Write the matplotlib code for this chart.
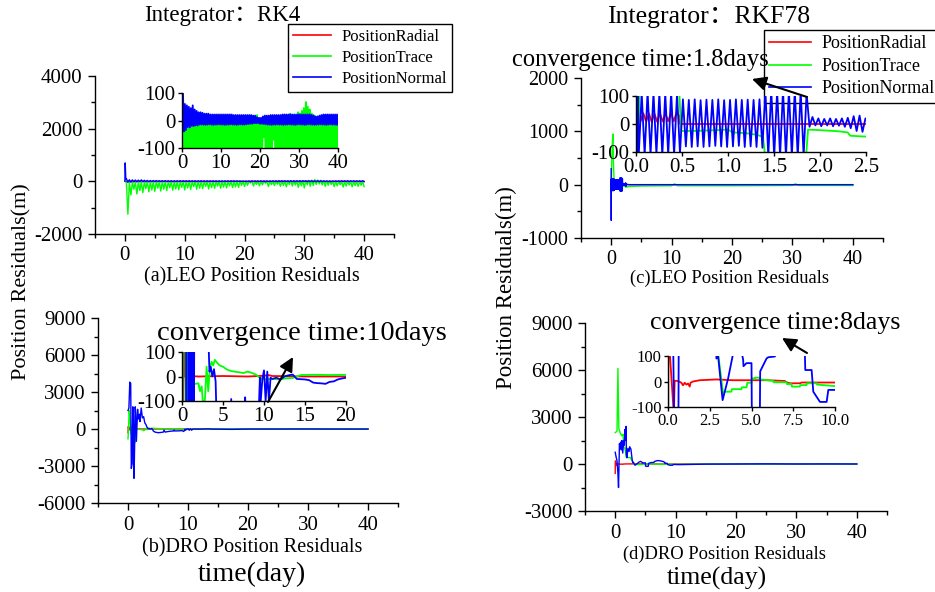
import numpy as np
import matplotlib
matplotlib.use("Agg")
import matplotlib.pyplot as plt
from matplotlib.ticker import MultipleLocator, FormatStrFormatter
from matplotlib.lines import Line2D
from matplotlib.patches import FancyArrowPatch

plt.rcParams['font.family'] = ['Liberation Serif', 'Noto Sans CJK SC']
plt.rcParams['axes.unicode_minus'] = False

W, H = 935, 592
RED, GREEN, BLUE = '#ff0000', '#00ff00', '#0000ff'
LABELS = ['PositionRadial', 'PositionTrace', 'PositionNormal']

# ---------------- (a) RK4, LEO ----------------
# half-day samples: base value then spike value
green_a_base = [-40, -35, -30, -30, -25, -20, -20, -15, -15, -15,
                -12, -12, -10, -10, -10, -10, -10, -10, -10, -10,
                -10, -10, -10, -8, -8, -8, -10, -10, -10, -8,
                -8, -5, -5, -5, -3, -3, 0, 5, 20, 5,
                0, -5, -5, -5, -5, -5, -5, -3, -3, -3,
                -3, -5, -5, -5, 5, 25, 10, 5, 15, 30,
                25, 35, 45, 67, 50, 40, 25, 20, 10, 0,
                -5, -8, -10, -10, -10, -10, -12, -12, -12, -10]
green_a_spike = [-1250, -520, -300, -480, -350, -430, -280, -400, -330, -380,
                 -260, -370, -300, -350, -240, -340, -290, -320, -230, -330,
                 -250, -310, -200, -300, -260, -280, -190, -290, -240, -270,
                 -180, -260, -220, -250, -170, -240, -210, -230, -160, -200,
                 -150, -60, -180, -120, -170, -140, -70, -200, -130, -160,
                 -110, -190, -150, -210, -120, -180, -140, -230, -170, -250,
                 -130, -190, -160, -120, -100, -140, -190, -150, -120, -200,
                 -170, -130, -220, -180, -140, -210, -160, -190, -150, -200]
blue_a_hi = [100, 60, 55, 50, 45, 55, 40, 35, 30, 30,
             28, 25, 25, 25, 22, 22, 22, 22, 22, 22,
             22, 22, 22, 22, 22, 22, 20, 20, 20, 20,
             20, 20, 20, 20, 20, 20, 18, 18, 12, 10,
             10, 15, 18, 18, 18, 20, 20, 20, 20, 20,
             20, 22, 22, 22, 22, 22, 22, 22, 22, 22,
             22, 22, 22, 22, 22, 22, 20, 18, 15, 15,
             18, 20, 22, 22, 22, 22, 22, 22, 22, 22]
blue_a_lo = [-40, -35, -25, -25, -20, -20, -18, -18, -15, -15,
             -15, -16, -15, -14, -15, -16, -15, -15, -14, -15,
             -15, -16, -15, -15, -14, -15, -15, -16, -15, -14,
             -15, -15, -14, -13, -12, -12, -10, -10, -10, -12,
             -12, -13, -14, -15, -15, -16, -15, -15, -14, -15,
             -15, -16, -15, -15, -14, -15, -15, -16, -15, -14,
             -15, -15, -16, -15, -14, -15, -15, -16, -15, -15,
             -14, -15, -15, -16, -15, -14, -15, -15, -16, -15]
red_a_day = np.arange(0, 41, 2)
red_a = [0, 8, -5, 4, -3, 5, -2, 3, -4, 2, 0, 3, -2, 4, -3, 5, 2, -3, 4, -2, 0]

# ---------------- (b) RK4, DRO ----------------
red_b = [(0.0, -300), (0.05, 200), (0.15, -100), (0.25, 150), (0.35, 0),
         (1, 2), (2, 0), (5, 2), (8, 0), (10, 3), (10.5, 6), (11, 2),
         (15, 0), (20, 0), (30, 0), (40, 0)]
green_b = [(0.0, -800), (0.1, 200), (0.2, 1500), (0.35, 600), (0.5, -400),
           (0.7, 300), (0.9, -1000), (1.05, -200), (1.2, -1100), (1.35, -35),
           (1.6, -30), (2.0, -28), (2.2, -60), (2.4, -40), (2.6, -130),
           (2.8, -90), (3.0, 40), (3.2, -60), (3.4, 30), (3.6, 60), (3.8, 45),
           (4.0, 68), (4.3, 55), (4.6, 45), (5.0, 40), (5.5, 28), (6.0, 22),
           (7.0, 17), (7.5, 14), (8.0, 20), (8.5, 15), (9.0, 8), (9.5, -6),
           (10.0, -12), (11.0, -10), (12.0, -12), (12.5, -8), (13.5, -6),
           (14.5, 6), (16.0, 7), (18.0, 6), (20.0, 7), (25, 3), (30, 2),
           (35, 0), (40, 0)]
blue_b = [(0.0, 1500), (0.15, 1700), (0.3, 3800), (0.45, 3700), (0.55, -3200),
          (0.7, -2800), (0.8, 1800), (0.9, 1500), (1.0, -4000), (1.1, -1500),
          (1.2, 1800), (1.3, 1200), (1.4, -1000), (1.6, 1600), (1.7, 800),
          (1.9, 1200), (2.0, 600), (2.2, 1700), (2.4, 900), (2.6, 1000),
          (2.8, 500), (3.0, 350), (3.15, 150), (3.25, 120), (3.35, 20),
          (3.5, 40), (3.7, 0), (3.9, 30), (4.1, -20), (4.2, -150), (4.5, -250),
          (5.0, -300), (5.5, -280), (5.9, -250), (6.0, -92), (6.2, -250),
          (6.5, -220), (7.0, -180), (7.6, -160), (7.7, -85), (7.8, -160),
          (8.5, -150), (9.0, -130), (9.3, -200), (9.5, -5), (9.6, -100),
          (9.8, -10), (10.0, 25), (10.2, -100), (10.4, 20), (10.6, -100),
          (10.8, -5), (11.0, -10), (11.5, -5), (12.0, -12), (12.5, 0),
          (13.0, 5), (13.5, 8), (14.0, -10), (15.0, -12), (15.5, -15),
          (16.0, -25), (16.5, -27), (17.0, -28), (17.5, -30), (18.0, -22),
          (18.5, -20), (19.0, -12), (19.5, -8), (20.0, -5), (25.0, -3),
          (30.0, 0), (35.0, -5), (40.0, -3)]

# ---------------- (c) RKF78, LEO ----------------
red_c = [(0.0, 0), (0.01, 40), (0.02, 65), (0.04, 55), (0.05, 10), (0.08, 38),
         (0.11, 8), (0.14, 38), (0.17, 8), (0.2, 37), (0.23, 8), (0.26, 38),
         (0.29, 9), (0.32, 38), (0.35, 10), (0.38, 40), (0.41, 10), (0.44, 40),
         (0.47, 30), (0.48, 0), (1.0, 0), (2.5, 0), (10, 0), (40, 0)]
green_c = [(0.0, -150), (0.01, -100), (0.02, -150), (0.04, 150), (0.1, 500),
           (0.2, 800), (0.3, 950), (0.35, 500), (0.42, 250), (0.47, 120),
           (0.49, -25), (0.6, -25), (0.8, -23), (1.0, -20), (1.05, -30),
           (1.2, -33), (1.3, -38), (1.38, -45), (1.40, -105), (1.5, -115),
           (1.7, -120), (1.85, -110), (1.87, -20), (2.0, -22), (2.2, -26),
           (2.3, -30), (2.33, -42), (2.5, -45), (3.0, -35), (5, -25), (10, -20),
           (10.5, 15), (11, -20), (20, -20), (30, -15), (30.5, 15), (31, -15),
           (40, -15)]
blue_c_start = [(0.0, 300), (0.008, -670), (0.02, 100)]
blue_c_osc_day = np.arange(0.03, 2.51, 0.032)
blue_c_osc = [-110, 110, -110, 115, -110, 112, -108, 110, -112, 110,
              -110, 115, -110, 108, -105, 88, -80, 86, -82, 88,
              -80, 85, -82, 87, -80, 86, -78, 88, -80, 85,
              -82, 86, -80, 88, -78, 86, -82, 87, -80, 86,
              -82, 88, -85, 120, -115, 125, -118, 120, -115, 122,
              -118, 120, -115, 122, -118, 120, -115, 110, -10, 25,
              -5, 20, -8, 18, -5, 20, -8, 18, -6, 20,
              -10, 22, -15, 28, -25, 30, -28, 20]
blue_c_end = [(2.6, 5), (3.0, 0), (10, 0), (20, 0), (30, 0), (40, 0)]

# ---------------- (d) RKF78, DRO ----------------
red_d = [(0.0, -600), (0.02, 200), (0.35, -130), (0.4, 3), (0.6, 2), (0.8, -5),
         (0.9, -15), (1.0, -5), (1.1, -12), (1.2, -8), (1.3, -20), (1.35, -5),
         (1.5, 0), (1.9, 5), (2.9, 8), (3.9, 5), (4.9, 5), (5.9, 5), (7.0, 2),
         (7.1, -3), (7.3, -7), (7.9, -7), (8.0, -4), (10.0, -4), (15, 0),
         (40, 0)]
green_d = [(0.0, 2000), (0.3, 2100), (0.45, 6100), (0.6, 2300), (0.8, 2000),
           (1.1, 1800), (1.3, 1900), (1.4, 1100), (1.6, 1000), (1.7, 800),
           (1.8, 450), (2.2, 400), (2.5, 420), (2.8, 200), (3.0, 110),
           (3.3, -47), (3.4, -40), (3.8, -40), (3.82, -30), (4.4, -30),
           (4.42, -23), (4.7, -23), (4.75, -5), (5.0, -5), (5.02, 12),
           (5.2, 12), (5.22, 15), (5.5, 15), (5.52, 8), (6.3, 3), (6.32, -3),
           (7.1, -3), (7.12, -10), (7.4, -10), (7.42, -20), (7.9, -20),
           (7.92, -14), (8.3, -14), (8.32, -7), (8.9, -7), (8.92, -12),
           (10.0, -18), (12, -15), (15, -5), (20, 0), (30, 0), (40, 0)]
blue_d = [(0.0, 750), (0.15, 450), (0.3, 200), (0.45, -600), (0.55, -1500),
          (0.65, 300), (0.7, 1300), (0.8, 1100), (0.9, 1400), (1.0, 900),
          (1.1, 1500), (1.25, 700), (1.4, 1500), (1.5, 1200), (1.6, 2200),
          (1.7, 1500), (1.8, 2400), (1.85, 600), (1.95, 400), (2.1, 1000),
          (2.3, 800), (2.4, 1100), (2.6, 950), (2.8, 300), (2.9, 90),
          (3.0, 100), (3.27, -73), (3.6, 12), (3.9, 110), (4.2, 170),
          (4.4, 120), (4.5, 85), (4.52, 60), (4.7, 72), (5.0, 72),
          (5.02, -130), (5.2, -150), (5.5, -140), (5.52, 40), (5.9, 90),
          (6.0, 95), (6.4, 98), (6.5, 160), (7.0, 220), (7.5, 200),
          (8.0, 150), (8.2, 100), (8.22, 45), (8.6, 45), (8.7, -40),
          (9.1, -80), (9.5, -80), (9.6, -33), (10.0, -33), (10.5, -40),
          (12, -30), (15, -10), (20, 0), (25, 10), (30, 0), (35, 5), (40, 0)]


def pairs(p):
    a = np.array(p, dtype=float)
    return a[:, 0], a[:, 1]


def interleave(first, second):
    return np.column_stack([first, second]).ravel()


days_a = np.arange(1, 161) * 0.25
series = {}
series['a'] = [
    (red_a_day, np.array(red_a, float), RED),
    (np.r_[0.0, days_a], np.r_[0.0, interleave(green_a_base, green_a_spike)], GREEN),
    (np.r_[0.0, 0.05, 0.15, days_a],
     np.r_[0.0, 700, 100, interleave(blue_a_hi, blue_a_lo)], BLUE),
]
series['b'] = [pairs(red_b) + (RED,), pairs(green_b) + (GREEN,), pairs(blue_b) + (BLUE,)]
bc0, bc0v = pairs(blue_c_start)
bc1, bc1v = pairs(blue_c_end)
series['c'] = [pairs(red_c) + (RED,), pairs(green_c) + (GREEN,),
               (np.r_[bc0, blue_c_osc_day, bc1], np.r_[bc0v, blue_c_osc, bc1v], BLUE)]
series['d'] = [pairs(red_d) + (RED,), pairs(green_d) + (GREEN,), pairs(blue_d) + (BLUE,)]


def rect(l, t, r, b):
    return [l / W, 1 - b / H, (r - l) / W, (b - t) / H]


def fpt(x, y):
    return (x / W, 1 - y / H)


def style(ax, fs, major_len, minor_len, pad):
    for s in ('top', 'right'):
        ax.spines[s].set_visible(False)
    for s in ('left', 'bottom'):
        ax.spines[s].set_linewidth(1.0)
    ax.tick_params(which='both', direction='out', labelsize=fs, width=1.0, pad=pad)
    ax.tick_params(which='major', length=major_len)
    ax.tick_params(which='minor', length=minor_len)


def draw(ax, key, lw=1.0):
    for x, y, c in series[key]:
        ax.plot(x, y, color=c, lw=lw)


fig = plt.figure(figsize=(W / 100, H / 100), dpi=100)

mains = {
    'a': ((95, 76, 394, 234), (-2000, 4000), 2000, 1000, 15),
    'b': ((98, 318, 398, 503), (-6000, 9000), 3000, 1500, 15),
    'c': ((581, 78, 883, 238), (-1000, 2000), 1000, 500, 14.5),
    'd': ((585, 323, 887, 511), (-3000, 9000), 3000, 1500, 15),
}
for key, (box, ylim, ymaj, ymin, fs) in mains.items():
    ax = fig.add_axes(rect(*box))
    draw(ax, key)
    ax.set_xlim(-5, 45)
    ax.set_ylim(*ylim)
    ax.xaxis.set_major_locator(MultipleLocator(10))
    ax.xaxis.set_minor_locator(MultipleLocator(5))
    ax.yaxis.set_major_locator(MultipleLocator(ymaj))
    ax.yaxis.set_minor_locator(MultipleLocator(ymin))
    style(ax, fs, 5, 3, 4)

insets = {
    'a': ((182, 93, 338, 148), (0, 40), [0, 10, 20, 30, 40], 15, None),
    'b': ((182, 352, 346, 401), (0, 20), [0, 5, 10, 15, 20], 15, None),
    'c': ((636, 96, 866, 152), (0, 2.5), [0, 0.5, 1.0, 1.5, 2.0, 2.5], 15, '%.1f'),
    'd': ((668, 356, 835, 407), (0, 10), [0, 2.5, 5.0, 7.5, 10.0], 12, '%.1f'),
}
for key, (box, xlim, xt, fs, fmt) in insets.items():
    ax = fig.add_axes(rect(*box), zorder=6)
    ax.patch.set_alpha(0)
    draw(ax, key, lw=1.3)
    ax.set_xlim(*xlim)
    ax.set_ylim(-100, 100)
    ax.set_xticks(xt)
    ax.set_yticks([-100, 0, 100])
    if fmt:
        ax.xaxis.set_major_formatter(FormatStrFormatter(fmt))
    style(ax, fs, 3, 2, 1.5)

handles = [Line2D([], [], color=c, lw=1.2) for c in (RED, GREEN, BLUE)]
for (lx, ly), fs in (((288, 24), 12), ((764, 30), 13)):
    leg = fig.legend(handles, LABELS, loc='upper left', bbox_to_anchor=fpt(lx, ly),
                     bbox_transform=fig.transFigure, fancybox=False, framealpha=1,
                     edgecolor='black', fontsize=fs, handlelength=2.3,
                     borderaxespad=0, labelspacing=0.3, borderpad=0.3,
                     handletextpad=0.6)
    leg.get_frame().set_linewidth(1.0)

# texts
fig.text(*fpt(222, 15), 'Integrator：RK4', ha='center', va='center', fontsize=16.5)
fig.text(*fpt(709, 17), 'Integrator：RKF78', ha='center', va='center', fontsize=18.5)
fig.text(*fpt(252, 277), '(a)LEO Position Residuals', ha='center', va='center', fontsize=14.5)
fig.text(*fpt(252, 548), '(b)DRO Position Residuals', ha='center', va='center', fontsize=14.5)
fig.text(*fpt(729, 278), '(c)LEO Position Residuals', ha='center', va='center', fontsize=13.3)
fig.text(*fpt(724, 554), '(d)DRO Position Residuals', ha='center', va='center', fontsize=13.3)
fig.text(*fpt(252, 574), 'time(day)', ha='center', va='center', fontsize=20)
fig.text(*fpt(717, 578), 'time(day)', ha='center', va='center', fontsize=18.5)
fig.text(*fpt(22, 282), 'Position Residuals(m)', ha='center', va='center',
         rotation=90, fontsize=16)
fig.text(*fpt(506, 288), 'Position Residuals(m)', ha='center', va='center',
         rotation=90, fontsize=16.5)
fig.text(*fpt(302, 333), 'convergence time:10days', ha='center', va='center',
         fontsize=20.5, zorder=10)
fig.text(*fpt(640, 60), 'convergence time:1.8days', ha='center', va='center',
         fontsize=17.7, zorder=10)
fig.text(*fpt(775, 323), 'convergence time:8days', ha='center', va='center',
         fontsize=18.6, zorder=10)

for tail, head in (((268, 402), (293, 357)), ((807, 97), (752, 79)),
                   ((807, 353), (782, 338))):
    arr = FancyArrowPatch(fpt(*tail), fpt(*head), transform=fig.transFigure,
                          arrowstyle='-|>,head_length=0.6,head_width=0.3',
                          mutation_scale=14, color='black', lw=1.5,
                          shrinkA=0, shrinkB=0, zorder=10)
    fig.add_artist(arr)

fig.savefig('out.png', dpi=100)
